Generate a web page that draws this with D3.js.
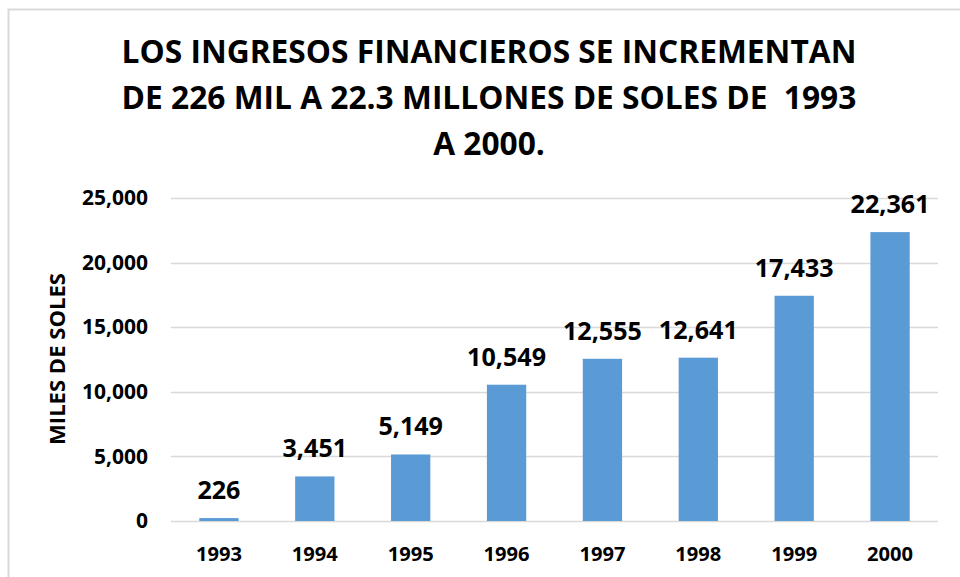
<!DOCTYPE html>
<html>
<head>
<meta charset="utf-8">
<script src="https://cdn.jsdelivr.net/npm/d3@7"></script>
<style>
  body { margin: 0; background: #fff; }
  text { font-family: "Open Sans", sans-serif; font-weight: 700; fill: #000; }
</style>
</head>
<body>
<div id="app"></div>
<script>
const years = ["1993", "1994", "1995", "1996", "1997", "1998", "1999", "2000"];
const ingresos = [226, 3451, 5149, 10549, 12555, 12641, 17433, 22361];
const yTicks = [0, 5000, 10000, 15000, 20000, 25000];
const titleLines = [
  "LOS INGRESOS FINANCIEROS SE INCREMENTAN",
  "DE 226 MIL A 22.3 MILLONES DE SOLES DE  1993",
  "A 2000."
];
const yTitle = "MILES DE SOLES";

const width = 960;
const height = 577;
const fmt = d3.format(",");

const svg = d3
  .select("#app")
  .append("svg")
  .attr("width", width)
  .attr("height", height);

// font size that makes a sample string as wide as in the original
function fitSize(sample, target) {
  const t = svg
    .append("text")
    .style("font-size", "100px")
    .attr("xml:space", "preserve")
    .text(sample);
  const w = t.node().getComputedTextLength();
  t.remove();
  return (100 * target) / w;
}

const titleSize = fitSize(titleLines[0], 735);
const yTickSize = fitSize("25,000", 66);
const xTickSize = fitSize("1993", 46);
const labelSize = fitSize("22,361", 79);
const yTitleSize = fitSize(yTitle, 172);

// chart frame (right/bottom edges fall outside the picture)
svg
  .append("rect")
  .attr("x", 8.5)
  .attr("y", 9.5)
  .attr("width", 970)
  .attr("height", 600)
  .attr("fill", "none")
  .attr("stroke", "#d9d9d9")
  .attr("stroke-width", 2);

const xScale = d3
  .scaleBand()
  .domain(years)
  .range([171, 938])
  .paddingInner(0.59)
  .paddingOuter(0.295);

const yScale = d3.scaleLinear().domain([0, 25000]).range([521, 198]);

// gridlines
svg
  .append("g")
  .selectAll("line")
  .data(yTicks)
  .enter()
  .append("line")
  .attr("x1", 171)
  .attr("x2", 938)
  .attr("y1", (d) => Math.round(yScale(d)) + 0.5)
  .attr("y2", (d) => Math.round(yScale(d)) + 0.5)
  .attr("stroke", "#d9d9d9")
  .attr("stroke-width", 1.5);

// y axis labels
const yAxis = d3
  .axisLeft(yScale)
  .tickValues(yTicks)
  .tickFormat(fmt)
  .tickSize(0)
  .tickPadding(23);

svg
  .append("g")
  .attr("transform", "translate(171,0)")
  .call(yAxis)
  .call((g) => g.select(".domain").remove())
  .call((g) =>
    g
      .selectAll("text")
      .style("font-family", "'Open Sans', sans-serif")
      .style("font-weight", 700)
      .style("font-size", yTickSize + "px")
      .attr("fill", "#000")
  );

// bars
svg
  .append("g")
  .selectAll("rect")
  .data(ingresos)
  .enter()
  .append("rect")
  .attr("x", (d, i) => xScale(years[i]))
  .attr("y", (d) => yScale(d))
  .attr("width", xScale.bandwidth())
  .attr("height", (d) => yScale(0) - yScale(d))
  .attr("fill", "#5b9bd5");

// x axis
const xAxis = d3.axisBottom(xScale).tickSize(0).tickPadding(26);

svg
  .append("g")
  .attr("transform", "translate(0,521)")
  .call(xAxis)
  .call((g) => g.select(".domain").remove())
  .call((g) =>
    g
      .selectAll("text")
      .style("font-family", "'Open Sans', sans-serif")
      .style("font-weight", 700)
      .style("font-size", xTickSize + "px")
      .attr("fill", "#000")
  );

// data labels
svg
  .append("g")
  .selectAll("text")
  .data(ingresos)
  .enter()
  .append("text")
  .attr("x", (d, i) => xScale(years[i]) + xScale.bandwidth() / 2)
  .attr("y", (d) => yScale(d) - 19)
  .attr("text-anchor", "middle")
  .style("font-size", labelSize + "px")
  .text((d) => fmt(d));

// title
svg
  .append("g")
  .selectAll("text")
  .data(titleLines)
  .enter()
  .append("text")
  .attr("x", 489)
  .attr("y", (d, i) => 63 + i * 46)
  .attr("text-anchor", "middle")
  .attr("xml:space", "preserve")
  .style("white-space", "pre")
  .style("font-size", titleSize + "px")
  .text((d) => d);

// y axis title
svg
  .append("text")
  .attr("transform", "translate(65,359) rotate(-90)")
  .attr("text-anchor", "middle")
  .style("font-size", yTitleSize + "px")
  .text(yTitle);
</script>
</body>
</html>
